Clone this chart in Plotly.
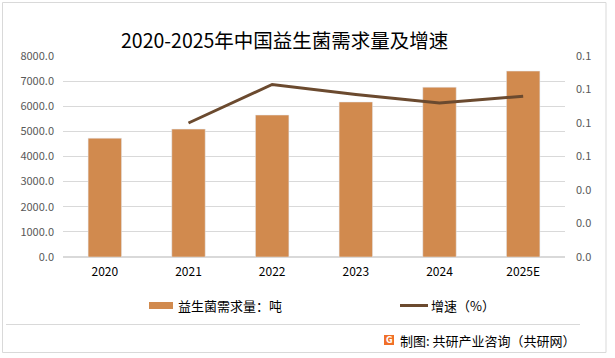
import plotly.graph_objects as go

years = ["2020", "2021", "2022", "2023", "2024", "2025E"]
demand = [4730, 5090, 5650, 6170, 6760, 7400]
growth_years = ["2021", "2022", "2023", "2024", "2025E"]
growth = [0.080, 0.103, 0.097, 0.092, 0.096]

W, H = 615, 358
L, R, T, B = 63, 565, 56, 257

def px(x):
    return (x - L) / (R - L)

def py(y):
    return (B - y) / (B - T)

FONT = "Noto Sans CJK SC, Microsoft YaHei, sans-serif"
BAR_C = "#D18A4E"
LINE_C = "#6B4A2F"

fig = go.Figure()
fig.add_trace(go.Bar(x=years, y=demand, marker_color=BAR_C, name="益生菌需求量：吨",
                     showlegend=False))
fig.add_trace(go.Scatter(x=growth_years, y=growth, yaxis="y2", mode="lines",
                         line=dict(color=LINE_C, width=3), name="增速（%）",
                         showlegend=False))

shapes = [
    dict(type="rect", xref="paper", yref="paper", x0=px(2.5), x1=px(606), y0=py(2.5), y1=py(352.5),
         line=dict(color="#D9D9D9", width=1), fillcolor="rgba(0,0,0,0)", layer="below"),
    dict(type="line", xref="paper", yref="paper", x0=px(6), x1=px(580), y0=py(324.5), y1=py(324.5),
         line=dict(color="#D9D9D9", width=1)),
    dict(type="rect", xref="paper", yref="paper", x0=px(149), x1=px(173), y0=py(302), y1=py(309),
         line=dict(width=0), fillcolor=BAR_C),
    dict(type="line", xref="paper", yref="paper", x0=px(400), x1=px(428), y0=py(305.5), y1=py(305.5),
         line=dict(color=LINE_C, width=3)),
    dict(type="rect", xref="paper", yref="paper", x0=px(384), x1=px(394), y0=py(335), y1=py(345),
         line=dict(width=0), fillcolor="#F07028"),
]

annotations = [
    dict(text="2020-2025年中国益生菌需求量及增速", xref="paper", yref="paper", x=px(284), y=py(39),
         xanchor="center", yanchor="middle", showarrow=False,
         font=dict(family=FONT, size=19.5, color="#000000")),
    dict(text="益生菌需求量：吨", xref="paper", yref="paper", x=px(176), y=py(305.5),
         xanchor="left", yanchor="middle", showarrow=False,
         font=dict(family=FONT, size=13, color="#000000")),
    dict(text="增速（%）", xref="paper", yref="paper", x=px(429), y=py(305.5),
         xanchor="left", yanchor="middle", showarrow=False,
         font=dict(family=FONT, size=13, color="#000000")),
    dict(text="<b>G</b>", xref="paper", yref="paper", x=px(389), y=py(340),
         xanchor="center", yanchor="middle", showarrow=False,
         font=dict(family="DejaVu Sans", size=8, color="#FFFFFF")),
    dict(text="制图: 共研产业咨询（共研网）", xref="paper", yref="paper", x=px(398), y=py(340),
         xanchor="left", yanchor="middle", showarrow=False,
         font=dict(family=FONT, size=13, color="#000000")),
]

fig.update_layout(
    width=W, height=H,
    margin=dict(l=L, r=W - R, t=T, b=H - B, pad=0),
    paper_bgcolor="white", plot_bgcolor="white",
    bargap=0.6,
    font=dict(family=FONT),
    xaxis=dict(type="category", showgrid=False, showline=False, ticks="",
               tickfont=dict(family=FONT, size=12, color="#000000"),
               ticklabelstandoff=6),
    yaxis=dict(range=[0, 8000], dtick=1000, tickformat=".1f", showgrid=True,
               gridcolor="#D9D9D9", gridwidth=1, zeroline=True, zerolinecolor="#D9D9D9",
               showline=False, ticks="", tickfont=dict(family=FONT, size=11, color="#595959"),
               ticklabelstandoff=8),
    yaxis2=dict(range=[0, 0.12], dtick=0.02, tickformat=".1f", overlaying="y", side="right",
                showgrid=False, zeroline=False, showline=False, ticks="",
                tickfont=dict(family=FONT, size=11, color="#595959"),
                ticklabelstandoff=10),
    shapes=shapes,
    annotations=annotations,
    showlegend=False,
)

fig.write_html("out.html", config={"displayModeBar": False},
               post_script="document.body.style.margin='0';document.body.style.overflow='hidden';")
